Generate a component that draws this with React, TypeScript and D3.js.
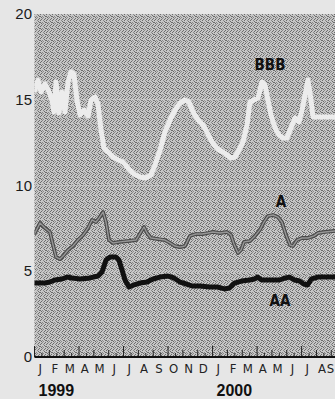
import React from "react";
import * as d3 from "d3";

// time in months since Jan 1999 (0 = start of Jan 1999)
const bbbT = [0.03,0.24,0.44,0.71,0.98,1.18,1.31,1.45,1.65,1.85,2.05,2.26,2.46,2.66,2.86,3.07,3.34,3.61,3.81,4.08,4.28,4.48,4.68,4.95,5.29,5.63,5.96,6.30,6.70,7.11,7.51,7.85,8.12,8.46,8.79,9.13,9.47,9.80,10.14,10.41,10.68,11.02,11.35,11.62,11.89,12.16,12.43,12.70,12.97,13.24,13.51,13.78,14.05,14.32,14.52,14.79,15.06,15.33,15.53,15.73,15.94,16.21,16.48,16.74,17.01,17.28,17.55,17.82,18.03,18.23,18.43,18.63,18.77,19.24,19.78,20.25];
const bbbV = [15.57,16.15,15.45,15.92,15.45,14.99,14.29,16.03,14.23,15.45,14.29,16.03,16.62,16.50,14.99,14.11,14.40,14.05,14.99,15.16,14.75,13.24,12.19,11.95,11.66,11.49,11.37,11.02,10.67,10.50,10.44,10.61,11.20,12.07,13.12,13.82,14.40,14.81,14.99,14.87,14.29,13.82,13.53,13.12,12.65,12.30,12.07,11.95,11.78,11.60,11.66,12.07,12.54,13.53,14.87,14.99,15.10,16.03,15.86,14.99,14.11,13.35,12.94,12.77,12.77,13.35,13.94,13.70,14.40,15.28,16.15,14.99,13.99,13.99,13.99,13.99];

const aT = [0.03,0.37,0.71,1.04,1.25,1.45,1.72,1.99,2.26,2.59,2.93,3.27,3.61,3.87,4.14,4.35,4.62,4.82,5.02,5.29,5.76,6.30,6.84,7.18,7.38,7.58,7.85,8.32,8.79,9.13,9.47,9.80,10.14,10.48,10.88,11.29,11.69,12.03,12.50,12.97,13.24,13.44,13.71,13.92,14.12,14.52,14.86,15.19,15.46,15.73,16.07,16.40,16.67,16.95,17.22,17.42,17.69,18.03,18.43,18.84,19.10,19.58,20.25];
const aV = [7.23,7.81,7.52,7.29,6.53,5.83,5.71,5.95,6.24,6.47,6.82,7.11,7.52,7.99,7.87,8.10,8.45,7.87,6.82,6.65,6.71,6.76,6.82,7.29,7.58,7.23,6.94,6.88,6.82,6.65,6.47,6.41,6.47,7.06,7.17,7.17,7.23,7.29,7.23,7.29,7.11,6.59,6.06,6.24,6.71,6.76,7.06,7.41,7.87,8.22,8.28,8.16,7.87,7.11,6.53,6.47,6.82,6.94,6.94,7.06,7.23,7.29,7.35];

const aaT = [0.03,0.71,1.04,1.38,1.85,2.19,2.53,3.07,3.74,4.28,4.55,4.82,5.09,5.49,5.69,5.90,6.10,6.37,6.70,7.11,7.58,7.99,8.46,8.99,9.40,9.80,10.21,10.61,11.15,11.79,12.33,12.80,13.14,13.48,13.95,14.49,14.83,15.03,15.30,15.84,16.51,16.91,17.18,17.52,17.86,18.13,18.40,18.67,19.10,19.58,20.25];
const aaV = [4.31,4.31,4.37,4.49,4.55,4.66,4.61,4.55,4.61,4.72,4.96,5.66,5.83,5.83,5.66,5.07,4.49,4.08,4.20,4.31,4.37,4.55,4.66,4.72,4.61,4.37,4.26,4.14,4.14,4.08,4.08,3.97,4.02,4.31,4.43,4.49,4.55,4.66,4.49,4.49,4.49,4.61,4.66,4.49,4.43,4.26,4.20,4.55,4.66,4.66,4.66];

const monthLabels = ["J","F","M","A","M","J","J","A","S","O","N","D","J","F","M","A","M","J","J","A","S"];
const yearLabels = ["1999", "2000"];
const yearMonths = [0, 12];
const yTicks = [0, 5, 10, 15, 20];
const gridValues = [5, 10, 15];

const W = 335, H = 399;
const left = 34.5, right = 335, top = 14, bottom = 357;

// irregular stipple dots inside a 6x6 tile
const dots = [[0,0],[3,0],[5,1],[1,2],[4,2],[2,3],[0,4],[3,4],[5,5],[1,5],[2,1],[4,4]];

export default function App() {
  const x = d3.scaleLinear().domain([0, 20.25]).range([left, right]);
  const y = d3.scaleLinear().domain([0, 20]).range([bottom, top]);
  const mk = (ts: number[], vs: number[]) =>
    d3.line<number>().x((_, i) => x(ts[i])).y((_, i) => y(vs[i])).curve(d3.curveLinear)(ts) || "";
  const monthTicks = d3.range(0, 21);
  const narrow = "'Liberation Sans Narrow', 'DejaVu Sans Condensed', 'Liberation Sans', sans-serif";
  const sans = "'Liberation Sans', Arial, sans-serif";
  return (
    <svg width={W} height={H} style={{ position: "absolute", left: 0, top: 0 }}>
      <defs>
        <pattern id="stip" width="6" height="6" patternUnits="userSpaceOnUse">
          <rect width="6" height="6" fill="#c6c6c6" />
          {dots.map(([dx, dy], i) => (
            <rect key={i} x={dx} y={dy} width="1" height="1" fill={i % 3 === 0 ? "#8a8a8a" : "#6c6c6c"} />
          ))}
        </pattern>
        <clipPath id="plotclip">
          <rect x={left} y={top} width={right - left} height={bottom - top} />
        </clipPath>
      </defs>
      <rect width={W} height={H} fill="#e6e6e6" />
      <rect x={left} y={top} width={right - left} height={bottom - top} fill="url(#stip)" />
      {gridValues.map((v) => (
        <line key={v} x1={left} x2={right} y1={y(v)} y2={y(v)} stroke="#d2d2d2" strokeWidth={1} opacity={0.6} />
      ))}
      <line x1={x(12)} x2={x(12)} y1={top} y2={bottom} stroke="#d0d0d0" strokeWidth={1} strokeDasharray="1 2" opacity={0.7} />
      <g clipPath="url(#plotclip)" fill="none" strokeLinejoin="round" strokeLinecap="round">
        <path d={mk(bbbT, bbbV)} stroke="#ececec" strokeWidth={5} />
        <path d={mk(aT, aV)} stroke="#4a4a4a" strokeWidth={3.8} />
        <path d={mk(aT, aV)} stroke="#979797" strokeWidth={1.4} />
        <path d={mk(aaT, aaV)} stroke="#111" strokeWidth={5} />
      </g>
      {monthTicks.map((m) => (
        <line key={m} x1={x(m)} x2={x(m)} y1={bottom} y2={bottom - (m % 3 === 0 ? 11 : 7)} stroke="#222" strokeWidth={1} />
      ))}
      {monthTicks.map((m) => (
        <line key={"h" + m} x1={x(m + 0.5)} x2={x(m + 0.5)} y1={bottom} y2={bottom - 4} stroke="#333" strokeWidth={1} />
      ))}
      <line x1={left} x2={right} y1={bottom} y2={bottom} stroke="#111" strokeWidth={2} />
      {yTicks.map((v) => (
        <text key={v} x={32} y={y(v) + 5} textAnchor="end" fontFamily={sans} fontSize={15} fill="#1a1a1a">{v}</text>
      ))}
      {monthLabels.map((l, i) => (
        <text key={i} x={Math.min(x(i + 0.38), 330.5)} y={373} textAnchor="middle" fontFamily={narrow} fontSize={13} fill="#222">{l}</text>
      ))}
      {yearLabels.map((l, i) => (
        <text key={l} x={x(yearMonths[i]) + 4} y={396} fontFamily={sans} fontWeight="bold" fontSize={16} fill="#111">{l}</text>
      ))}
      <text x={270} y={70} textAnchor="middle" fontFamily={narrow} fontWeight="bold" fontSize={15} fill="#111">BBB</text>
      <text x={281} y={207} textAnchor="middle" fontFamily={narrow} fontWeight="bold" fontSize={15} fill="#111">A</text>
      <text x={280} y={306} textAnchor="middle" fontFamily={narrow} fontWeight="bold" fontSize={15} fill="#111">AA</text>
    </svg>
  );
}
